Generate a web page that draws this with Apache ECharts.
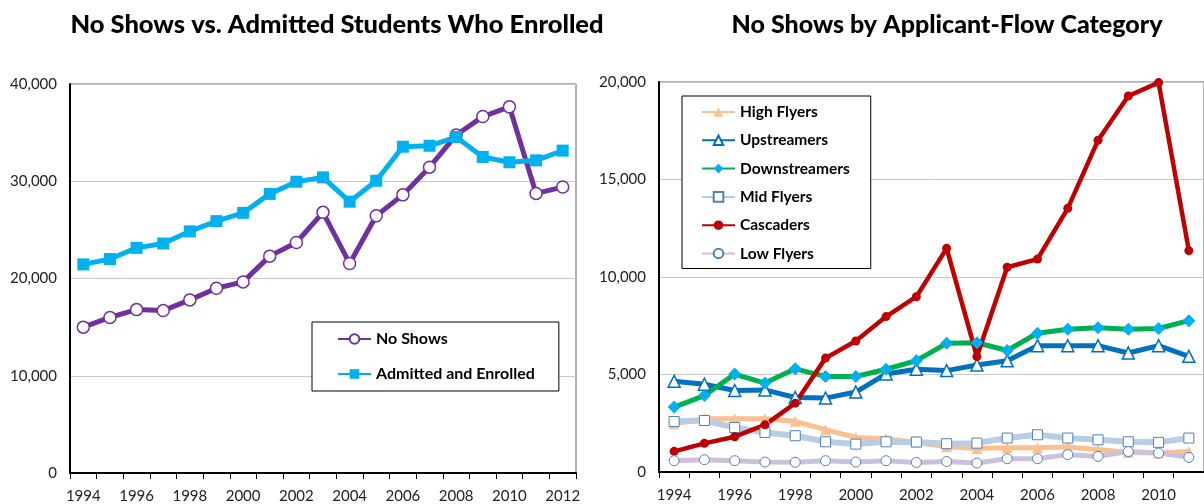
<!DOCTYPE html>
<html><head><meta charset="utf-8">
<script src="https://cdn.jsdelivr.net/npm/echarts@6/dist/echarts.min.js"></script>
<style>html,body{margin:0;padding:0;background:#fff}#c{width:1204px;height:504px}</style>
</head><body><div id="c"></div>
<script>
const yearsLeft = ['1994','1995','1996','1997','1998','1999','2000','2001','2002','2003','2004','2005','2006','2007','2008','2009','2010','2011','2012'];
const noShows = [15000,16000,16800,16700,17800,19000,19650,22300,23700,26800,21550,26450,28600,31450,34750,36650,37650,28750,29400];
const admittedEnrolled = [21450,22000,23150,23600,24850,25900,26750,28700,29950,30400,27900,30050,33550,33650,34550,32500,31950,32150,33150];

const yearsRight = ['1994','1995','1996','1997','1998','1999','2000','2001','2002','2003','2004','2005','2006','2007','2008','2009','2010','2011'];
const highFlyers = [2470,2730,2730,2730,2600,2170,1770,1700,1520,1300,1200,1250,1250,1280,1150,1000,980,1050];
const upstreamers = [4650,4500,4180,4210,3820,3790,4100,5030,5270,5200,5490,5700,6480,6480,6480,6100,6480,5930];
const downstreamers = [3330,3920,5020,4560,5290,4900,4900,5270,5710,6600,6630,6230,7120,7320,7400,7320,7360,7760];
const midFlyers = [2590,2640,2280,2030,1860,1550,1430,1550,1540,1450,1480,1740,1910,1740,1650,1550,1520,1740];
const cascaders = [1060,1470,1810,2420,3530,5840,6720,7970,8990,11470,5920,10500,10920,13520,17010,19280,19970,11350];
const lowFlyers = [580,630,580,510,500,580,510,580,490,540,460,680,680,890,800,1050,970,750];

const FONT = 'Lato';
const chart = echarts.init(document.getElementById('c'));
const fmt = v => v.toLocaleString('en-US');

function xAxis(idx, data) {
  return {
    type: 'category', gridIndex: idx, data: data, boundaryGap: true,
    axisLine: {lineStyle: {color: '#000', width: 2}},
    axisTick: {show: true, interval: 0, length: 6, lineStyle: {color: '#000', width: 1}},
    axisLabel: {interval: 1, color: '#222', fontFamily: FONT, fontSize: 15, margin: 16},
    splitLine: {show: false}
  };
}
function yAxis(idx, max, interval) {
  return {
    type: 'value', gridIndex: idx, min: 0, max: max, interval: interval,
    axisLine: {show: true, lineStyle: {color: '#000', width: 2}},
    axisTick: {show: false},
    axisLabel: {color: '#222', fontFamily: FONT, fontSize: 15, margin: 13, formatter: fmt},
    splitLine: {lineStyle: {color: '#c8c8c8', width: 1}}
  };
}
function line(name, data, xi, color, width, symbol, size, fill, edge, edgeW) {
  return {
    name: name, type: 'line', xAxisIndex: xi, yAxisIndex: xi, data: data,
    symbol: symbol, symbolSize: size, showAllSymbol: true,
    lineStyle: {color: color, width: width},
    itemStyle: {color: fill, borderColor: edge, borderWidth: edgeW},
    emphasis: {disabled: true}, animation: false
  };
}

chart.setOption({
  animation: false,
  title: [
    {text: 'No Shows vs. Admitted Students Who Enrolled', left: 332, top: 7, textAlign: 'center',
     textStyle: {fontFamily: FONT, fontWeight: 900, fontSize: 25.5, color: '#000'}},
    {text: 'No Shows by Applicant-Flow Category', left: 942, top: 7, textAlign: 'center',
     textStyle: {fontFamily: FONT, fontWeight: 900, fontSize: 25, color: '#000'}}
  ],
  grid: [
    {left: 70, top: 84, width: 506, height: 390, show: true, borderColor: '#606060', borderWidth: 1, containLabel: false},
    {left: 659, top: 82, width: 555, height: 390, show: true, borderColor: '#606060', borderWidth: 1, containLabel: false}
  ],
  xAxis: [xAxis(0, yearsLeft), xAxis(1, yearsRight)],
  yAxis: [yAxis(0, 40000, 10000), yAxis(1, 20000, 5000)],
  legend: [
    {data: ['No Shows', 'Admitted and Enrolled'], orient: 'vertical', left: 312, top: 322,
     padding: [9, 24, 9, 25], itemGap: 19, itemWidth: 33, itemHeight: 12,
     borderColor: '#000', borderWidth: 1, backgroundColor: '#fff',
     textStyle: {fontFamily: FONT, fontWeight: 'bold', fontSize: 16, color: '#000'}},
    {data: ['High Flyers','Upstreamers','Downstreamers','Mid Flyers','Cascaders','Low Flyers'],
     orient: 'vertical', left: 682, top: 96,
     padding: [8, 21, 7, 19], itemGap: 12.3, itemWidth: 33, itemHeight: 12,
     borderColor: '#000', borderWidth: 1, backgroundColor: '#fff',
     textStyle: {fontFamily: FONT, fontWeight: 'bold', fontSize: 15.5, color: '#000'}}
  ],
  series: [
    line('No Shows', noShows, 0, '#7030A0', 5, 'circle', 12, '#fff', '#7030A0', 1.5),
    line('Admitted and Enrolled', admittedEnrolled, 0, '#00B0F0', 5, 'rect', 12, '#00B0F0', '#00B0F0', 0),
    line('High Flyers', highFlyers, 1, '#FAC090', 5, 'triangle', 11, '#FAC090', '#FAC090', 0),
    line('Upstreamers', upstreamers, 1, '#0070C0', 5, 'triangle', 12, '#fff', '#0070C0', 1.5),
    line('Downstreamers', downstreamers, 1, '#00B050', 5, 'diamond', 13, '#00B0F0', '#00B0F0', 0),
    line('Mid Flyers', midFlyers, 1, '#B9CDE5', 6, 'rect', 10, '#fff', '#4F81BD', 1),
    line('Cascaders', cascaders, 1, '#C00000', 4.5, 'circle', 9, '#C00000', '#C00000', 0),
    line('Low Flyers', lowFlyers, 1, '#CCC1DA', 5, 'circle', 10, '#fff', '#4F81BD', 1)
  ]
});
</script></body></html>
